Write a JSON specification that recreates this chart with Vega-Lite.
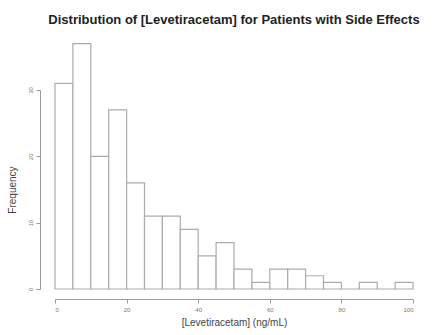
{
  "$schema": "https://vega.github.io/schema/vega-lite/v6.json",
  "width": 358,
  "height": 199,
  "autosize": {"type": "none"},
  "padding": {"left": 55, "top": 90, "right": 24, "bottom": 46},
  "background": "white",
  "config": {
    "view": {"stroke": null},
    "font": "Liberation Sans"
  },
  "title": {
    "text": "Distribution of [Levetiracetam] for Patients with Side Effects",
    "fontSize": 13,
    "fontWeight": "bold",
    "color": "#222222",
    "anchor": "middle",
    "offset": 16
  },
  "data": {
    "values": [
      {"bin_start": 0, "bin_end": 5, "count": 31},
      {"bin_start": 5, "bin_end": 10, "count": 37},
      {"bin_start": 10, "bin_end": 15, "count": 20},
      {"bin_start": 15, "bin_end": 20, "count": 27},
      {"bin_start": 20, "bin_end": 25, "count": 16},
      {"bin_start": 25, "bin_end": 30, "count": 11},
      {"bin_start": 30, "bin_end": 35, "count": 11},
      {"bin_start": 35, "bin_end": 40, "count": 9},
      {"bin_start": 40, "bin_end": 45, "count": 5},
      {"bin_start": 45, "bin_end": 50, "count": 7},
      {"bin_start": 50, "bin_end": 55, "count": 3},
      {"bin_start": 55, "bin_end": 60, "count": 1},
      {"bin_start": 60, "bin_end": 65, "count": 3},
      {"bin_start": 65, "bin_end": 70, "count": 3},
      {"bin_start": 70, "bin_end": 75, "count": 2},
      {"bin_start": 75, "bin_end": 80, "count": 1},
      {"bin_start": 80, "bin_end": 85, "count": 0},
      {"bin_start": 85, "bin_end": 90, "count": 1},
      {"bin_start": 90, "bin_end": 95, "count": 0},
      {"bin_start": 95, "bin_end": 100, "count": 1}
    ]
  },
  "mark": {"type": "rect", "fill": "white", "stroke": "#acacac", "strokeWidth": 1.2},
  "encoding": {
    "x": {
      "field": "bin_start",
      "type": "quantitative",
      "scale": {"domain": [0, 100], "nice": false, "zero": false},
      "axis": {
        "values": [0, 20, 40, 60, 80, 100],
        "offset": 10,
        "grid": false,
        "domainColor": "#9a9a9a",
        "tickColor": "#9a9a9a",
        "tickSize": 4,
        "labelFontSize": 6,
        "labelColor": "#777777",
        "labelPadding": 3,
        "title": "[Levetiracetam] (ng/mL)",
        "titleFontSize": 10,
        "titleFontWeight": "normal",
        "titleColor": "#444444",
        "titlePadding": 5
      }
    },
    "x2": {"field": "bin_end"},
    "y": {
      "field": "count",
      "type": "quantitative",
      "scale": {"domain": [0, 30], "nice": false},
      "axis": {
        "values": [0, 10, 20, 30],
        "offset": 15,
        "grid": false,
        "domainColor": "#9a9a9a",
        "tickColor": "#9a9a9a",
        "tickSize": 4,
        "labelFontSize": 6,
        "labelColor": "#777777",
        "labelAngle": 270,
        "labelAlign": "center",
        "labelBaseline": "bottom",
        "labelPadding": 3,
        "title": "Frequency",
        "titleFontSize": 10,
        "titleFontWeight": "normal",
        "titleColor": "#444444",
        "titlePadding": 10
      }
    },
    "y2": {"datum": 0}
  }
}
